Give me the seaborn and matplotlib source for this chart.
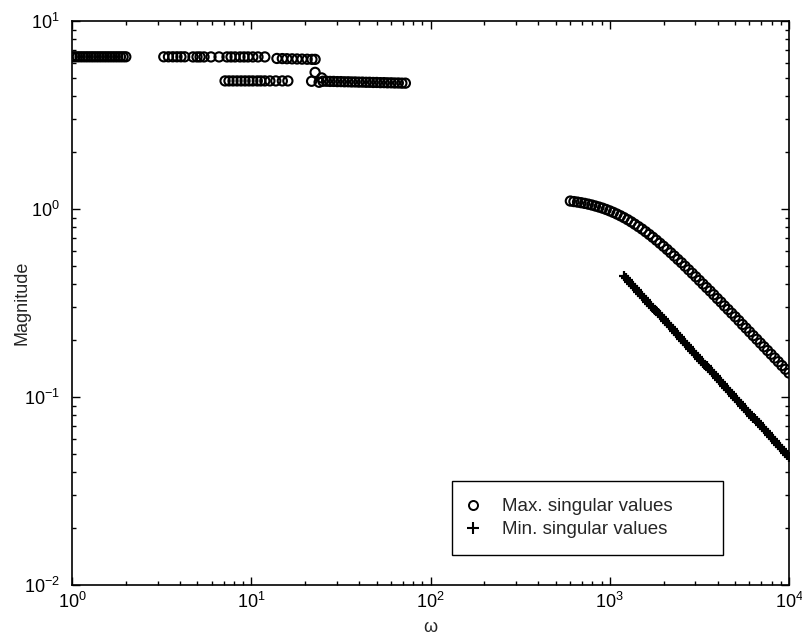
import matplotlib
matplotlib.use("Agg")
import matplotlib.pyplot as plt
from matplotlib.lines import Line2D
import numpy as np
import pandas as pd
import seaborn as sns

# ---------------- data ----------------
# low-frequency max singular values, upper branch
omega_seg1 = [1.000, 1.035, 1.072, 1.109, 1.148, 1.189, 1.230, 1.274, 1.318, 1.365,
              1.413, 1.462, 1.514, 1.567, 1.622, 1.679, 1.738, 1.799, 1.862, 1.928, 1.995]
mag_seg1 = [6.45] * len(omega_seg1)

omega_seg2 = [3.25, 3.45, 3.65, 3.85, 4.05, 4.25]
mag_seg2 = [6.45] * len(omega_seg2)

omega_seg3 = [4.73, 4.98, 5.18, 5.45, 5.96, 6.61, 7.32, 7.71, 8.12, 8.65, 9.11, 9.59,
              10.2, 10.9, 11.9]
mag_seg3 = [6.44] * len(omega_seg3)

omega_seg4 = [13.9, 14.9, 15.8, 16.9, 18.0, 19.2, 20.5, 21.8, 22.7]
mag_seg4 = [6.32, 6.31, 6.30, 6.29, 6.28, 6.27, 6.26, 6.25, 6.25]

# lower branch
omega_lowA = [7.14, 7.51, 7.91, 8.33, 8.77, 9.23, 9.71, 10.2, 10.8, 11.3, 11.9, 12.7,
              13.7, 14.9, 16.0]
mag_lowA = [4.80] * len(omega_lowA)

omega_cluster = [22.7, 21.7, 23.9, 24.7]
mag_cluster = [5.33, 4.78, 4.72, 4.98]

omega_lowB = [25.1, 26.3, 27.5, 28.8, 30.2, 31.6, 33.1, 34.7, 36.3, 38.0, 39.8, 41.7,
              43.7, 45.7, 47.9, 50.1, 52.5, 55.0, 57.5, 60.3, 63.1, 66.1, 69.2, 72.4]
mag_lowB = [4.78, 4.78, 4.77, 4.77, 4.76, 4.76, 4.75, 4.75, 4.74, 4.74, 4.73, 4.73,
            4.72, 4.72, 4.71, 4.71, 4.70, 4.70, 4.69, 4.69, 4.68, 4.68, 4.67, 4.67]

# high-frequency max singular values
omega_hi_max = [602.6, 631.0, 660.7, 691.8, 724.4, 758.6, 794.3, 831.8, 871.0, 912.0,
                955.0, 1000, 1047, 1096, 1148, 1202, 1259, 1318, 1380, 1445, 1514, 1585,
                1660, 1738, 1820, 1905, 1995, 2089, 2188, 2291, 2399, 2512, 2630, 2754,
                2884, 3020, 3162, 3311, 3467, 3631, 3802, 3981, 4169, 4365, 4571, 4786,
                5012, 5248, 5495, 5754, 6026, 6310, 6607, 6918, 7244, 7586, 7943, 8318,
                8710, 9120, 9550, 10000]
mag_hi_max = [1.102, 1.095, 1.088, 1.080, 1.071, 1.061, 1.050, 1.037, 1.024, 1.010,
              0.994, 0.977, 0.959, 0.940, 0.920, 0.899, 0.877, 0.854, 0.830, 0.806,
              0.782, 0.757, 0.732, 0.707, 0.682, 0.657, 0.633, 0.609, 0.585, 0.562,
              0.539, 0.518, 0.496, 0.475, 0.455, 0.436, 0.417, 0.399, 0.382, 0.366,
              0.350, 0.334, 0.320, 0.305, 0.292, 0.279, 0.267, 0.255, 0.243, 0.2325,
              0.222, 0.212, 0.2027, 0.1936, 0.1850, 0.1767, 0.1688, 0.1612, 0.1540,
              0.1470, 0.1404, 0.1341]

# high-frequency min singular values
omega_hi_min = [1202.3, 1230.3, 1258.9, 1288.2, 1318.3, 1349.0, 1380.4, 1412.5, 1445.4,
                1479.1, 1513.6, 1548.8, 1584.9, 1621.8, 1659.6, 1698.2, 1737.8, 1778.3,
                1819.7, 1862.1, 1905.5, 1949.8, 1995.3, 2041.7, 2089.3, 2138.0, 2187.8,
                2238.7, 2290.9, 2344.2, 2398.8, 2454.7, 2511.9, 2570.4, 2630.3, 2691.5,
                2754.2, 2818.4, 2884.0, 2951.2, 3020.0, 3090.3, 3162.3, 3235.9, 3311.3,
                3388.4, 3467.4, 3548.1, 3630.8, 3715.4, 3801.9, 3890.5, 3981.1, 4073.8,
                4168.7, 4265.8, 4365.2, 4466.8, 4570.9, 4677.4, 4786.3, 4897.8, 5011.9,
                5128.6, 5248.1, 5370.3, 5495.4, 5623.4, 5754.4, 5888.4, 6025.6, 6166.0,
                6309.6, 6456.5, 6606.9, 6760.8, 6918.3, 7079.5, 7244.4, 7413.1, 7585.8,
                7762.5, 7943.3, 8128.3, 8317.6, 8511.4, 8709.6, 8912.5, 9120.1, 9332.5,
                9549.9, 9772.4, 10000]
mag_hi_min = [0.4395, 0.4290, 0.4188, 0.4089, 0.3993, 0.3898, 0.3805, 0.3714, 0.3626,
              0.3540, 0.3455, 0.3373, 0.3293, 0.3215, 0.3138, 0.3063, 0.2990, 0.2919,
              0.2850, 0.2782, 0.2716, 0.2651, 0.2588, 0.2526, 0.2466, 0.2407, 0.2350,
              0.2294, 0.2240, 0.2187, 0.2135, 0.2084, 0.2034, 0.1986, 0.1939, 0.1893,
              0.1848, 0.1804, 0.1761, 0.1719, 0.1679, 0.1639, 0.1600, 0.1562, 0.1524,
              0.1488, 0.1453, 0.1418, 0.1384, 0.1351, 0.1319, 0.1288, 0.1257, 0.1227,
              0.1198, 0.1170, 0.1142, 0.1115, 0.1088, 0.1063, 0.1038, 0.1013, 0.0989,
              0.0965, 0.0942, 0.0920, 0.0898, 0.0877, 0.0856, 0.0836, 0.0816, 0.0796,
              0.0777, 0.0759, 0.0741, 0.0723, 0.0706, 0.0689, 0.0673, 0.0657, 0.0641,
              0.0626, 0.0611, 0.0596, 0.0582, 0.0568, 0.0555, 0.0542, 0.0529, 0.0516,
              0.0504, 0.0492, 0.0480]

legend_labels = ["Max. singular values", "Min. singular values"]

# ---------------- build tables ----------------
df_max = pd.DataFrame({
    "omega": omega_seg1 + omega_seg2 + omega_seg3 + omega_seg4 + omega_lowA
             + omega_cluster + omega_lowB + omega_hi_max,
    "mag": mag_seg1 + mag_seg2 + mag_seg3 + mag_seg4 + mag_lowA
           + mag_cluster + mag_lowB + mag_hi_max,
})
df_min = pd.DataFrame({"omega": omega_hi_min, "mag": mag_hi_min})

# ---------------- style ----------------
sns.set_style("ticks")
plt.rcParams["font.family"] = ["Liberation Sans", "DejaVu Sans"]
plt.rcParams["mathtext.fontset"] = "custom"
plt.rcParams["mathtext.rm"] = "Liberation Sans"
plt.rcParams["mathtext.it"] = "Liberation Sans:italic"
plt.rcParams["mathtext.bf"] = "Liberation Sans:bold"

fig = plt.figure(figsize=(8.03, 6.38), dpi=100)
ax = fig.add_axes([0.0897, 0.0831, 0.8929, 0.884])

sns.scatterplot(data=df_max, x="omega", y="mag", ax=ax, marker="o", s=44,
                color="black", facecolor="none", edgecolor="black", linewidth=1.5,
                legend=False)
sns.scatterplot(data=df_min, x="omega", y="mag", ax=ax, marker="+", s=55,
                color="black", linewidth=1.6, legend=False)

ax.set_xscale("log")
ax.set_yscale("log")
ax.set_xlim(1, 1e4)
ax.set_ylim(1e-2, 1e1)

for s in ax.spines.values():
    s.set_visible(True)
    s.set_linewidth(1.2)
    s.set_color("black")

ax.tick_params(which="both", direction="in", top=True, right=True, width=1.0,
               colors="black", labelsize=13)
ax.tick_params(which="major", length=6)
ax.tick_params(which="minor", length=3)
ax.tick_params(axis="x", which="major", pad=5)
ax.tick_params(axis="y", which="major", pad=9)

ax.set_xlabel("ω", fontsize=13, labelpad=5)
ax.set_ylabel("Magnitude", fontsize=13, labelpad=-5)

handles = [
    Line2D([], [], marker="o", ls="", mfc="none", mec="black", ms=6.5, mew=1.4),
    Line2D([], [], marker="+", ls="", color="black", ms=8, mew=1.5),
]
leg = ax.legend(handles, legend_labels, loc="lower left",
                bbox_to_anchor=(0.530, 0.053, 0.378, 0.146), mode="expand",
                borderaxespad=0, fontsize=13.5, frameon=True, fancybox=False,
                edgecolor="black", framealpha=1, borderpad=0.9, labelspacing=0.3,
                handlelength=0.45, handletextpad=1.3)
leg.get_frame().set_linewidth(1.0)

fig.savefig("out.png", dpi=100)
